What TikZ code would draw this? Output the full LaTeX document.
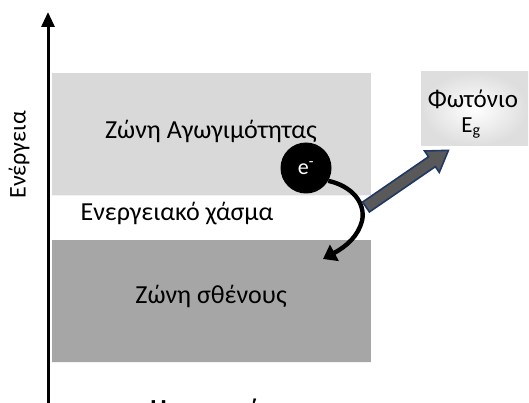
\documentclass[tikz,border=0pt]{standalone}
\usepackage{fontspec}
\setmainfont{Carlito}
\usetikzlibrary{arrows.meta}
\definecolor{condgray}{HTML}{D9D9D9}
\definecolor{valgray}{HTML}{A6A6A6}
\definecolor{photonfill}{HTML}{595959}
\definecolor{photonedge}{HTML}{1F3864}
\begin{document}
\begin{tikzpicture}[x=1pt,y=1pt,
  band/.style={draw=white!95!black, line width=0.8pt},
  bandlabel/.style={font=\fontsize{26}{30}\selectfont, inner sep=0pt},
  electron/.style={circle, fill=black, minimum size=51pt, inner sep=0pt,
    text=white, font=\fontsize{22}{26}\selectfont},
  jump/.style={line width=4.4pt, -{Triangle[width=18pt,length=13pt]}},
  photonbox/.style={inner sep=0pt, minimum width=107pt, minimum height=74pt,
    shading=radial, inner color=white, outer color=black!13}]
  \useasboundingbox (0,0) rectangle (529,-403);
  \clip (0,0) rectangle (529,-403);
  \fill[white] (0,0) rectangle (529,-403);

  % energy bands
  \fill[condgray] (52,-73) rectangle (371,-195);
  \draw[band] (52,-195) -- (371,-195);
  \fill[valgray] (52,-240) rectangle (371,-362);
  \draw[band] (52,-362) -- (371,-362);

  % energy axis
  \coordinate (axisbottom) at (48,-410);
  \coordinate (axistop) at (48,-12);
  \draw[line width=3pt, -{Triangle[width=13pt,length=15pt]}] (axisbottom) -- (axistop);
  \node[rotate=90, font=\fontsize{24}{28}\selectfont] (energy) at (19,-155) {Ενέργεια};

  % labels of the bands
  \node[bandlabel] (cond) at (211,-131) {Ζώνη Αγωγιμότητας};
  \node[bandlabel] (gap) at (177,-214) {Ενεργειακό χάσμα};
  \node[bandlabel] (val) at (211,-296) {Ζώνη σθένους};
  \node[font=\bfseries\fontsize{26}{30}\selectfont, anchor=north, inner sep=0pt] (semi) at (211,-398.5) {Ημιαγωγός};

  % electron and its drop to the valence band
  \node[electron] (el) at (306,-168) {e\textsuperscript{-}};
  \coordinate (landing) at (323,-259);
  \draw[jump] (el.-30) .. controls (352,-186) and (366,-203) .. (362,-221)
     .. controls (358,-236) and (347,-246) .. (landing);

  % emitted photon
  \node[photonbox] (photon) at (474.5,-109) {};
  \node[font=\fontsize{25}{30}\selectfont, inner sep=0pt] (phtext) at (473,-99) {Φωτόνιο};
  \node[font=\fontsize{23}{27}\selectfont, inner sep=0pt] (egtext) at (471,-128) {E\textsubscript{g}};
  \coordinate (emit) at (366,-207);
  \begin{scope}[shift={(emit)}, rotate=34.5]
    \filldraw[fill=photonfill, draw=photonedge, line width=1.6pt, line join=miter]
      (0,-6) -- (80,-6) -- (80,-13) -- (100,0) -- (80,13) -- (80,6) -- (0,6) -- cycle;
  \end{scope}
\end{tikzpicture}
\end{document}
